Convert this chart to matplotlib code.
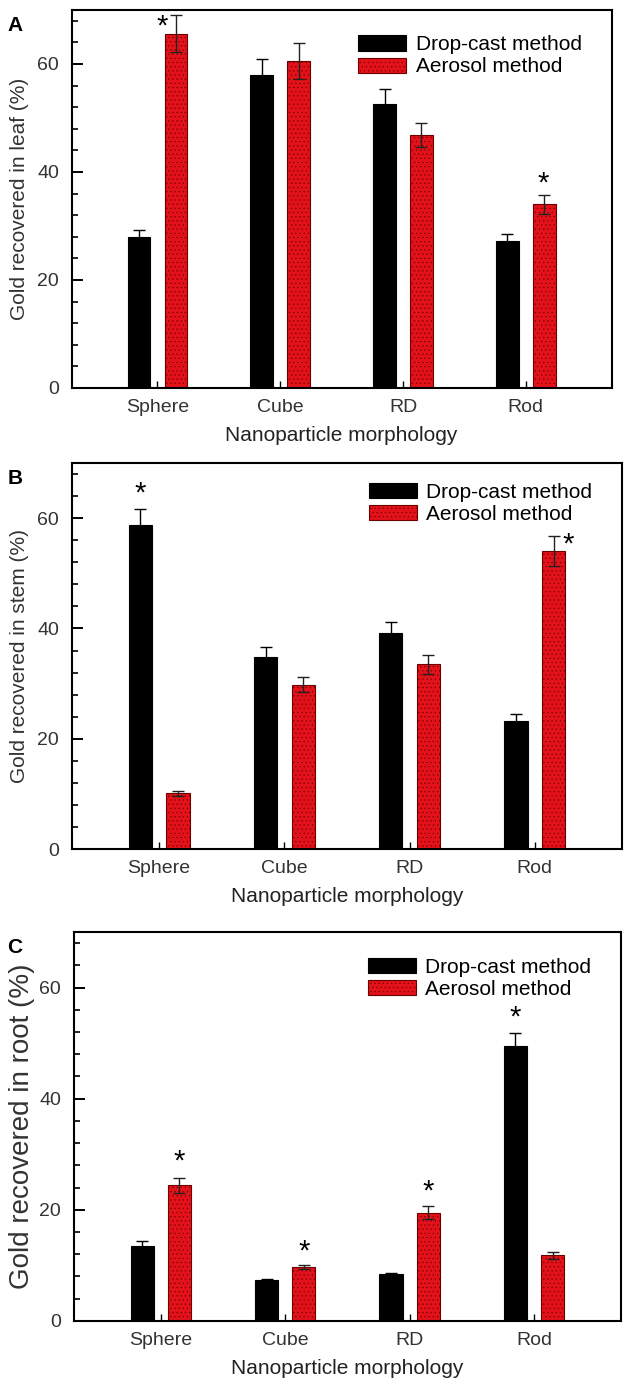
import numpy as np
import matplotlib
matplotlib.use("Agg")
import matplotlib.pyplot as plt
from matplotlib.ticker import MultipleLocator

plt.rcParams["font.family"] = ["Liberation Sans", "DejaVu Sans"]
plt.rcParams["hatch.linewidth"] = 0.35

categories = ["Sphere", "Cube", "RD", "Rod"]
series_names = ["Drop-cast method", "Aerosol method"]

# leaf
leaf_drop = [28.0, 57.9, 52.6, 27.3]
leaf_drop_err = [1.2, 3.0, 2.8, 1.2]
leaf_aero = [65.6, 60.6, 46.9, 34.0]
leaf_aero_err = [3.4, 3.3, 2.2, 1.8]

# stem
stem_drop = [58.7, 34.8, 39.1, 23.2]
stem_drop_err = [3.0, 1.8, 2.1, 1.3]
stem_aero = [10.1, 29.8, 33.5, 54.1]
stem_aero_err = [0.4, 1.4, 1.7, 2.7]

# root
root_drop = [13.4, 7.3, 8.4, 49.4]
root_drop_err = [0.9, 0.3, 0.3, 2.5]
root_aero = [24.4, 9.7, 19.5, 11.8]
root_aero_err = [1.3, 0.4, 1.1, 0.6]

# significance stars: (category index, x offset, y)
leaf_stars = [(0, 0.04, 67.0), (3, 0.14, 37.8)]
stem_stars = [(0, -0.15, 64.5), (3, 0.27, 55.3)]
root_stars = [(0, 0.15, 28.6), (1, 0.15, 12.4), (2, 0.15, 23.3), (3, -0.15, 54.6)]

panels = [
    ("A", "Gold recovered in leaf (%)", leaf_drop, leaf_drop_err, leaf_aero, leaf_aero_err, leaf_stars,
     [0.1135, 0.7227, 0.8575, 0.2702], (0.96, 0.955), 15, 6),
    ("B", "Gold recovered in stem (%)", stem_drop, stem_drop_err, stem_aero, stem_aero_err, stem_stars,
     [0.1135, 0.3931, 0.8745, 0.2759], (0.96, 0.97), 15, 6),
    ("C", "Gold recovered in root (%)", root_drop, root_drop_err, root_aero, root_aero_err, root_stars,
     [0.117, 0.0558, 0.869, 0.2780], (0.96, 0.955), 20, 3),
]

fig = plt.figure(figsize=(6.3, 13.99), dpi=100)
x = np.arange(len(categories))
w = 0.185
off = 0.15
red = "#e3121a"
tick_col = "#333333"

for letter, ylab, d, de, a, ae, stars, rect, leg_pos, ylab_fs, ylab_pad in panels:
    ax = fig.add_axes(rect)
    ax.bar(x - off, d, w, color="black", edgecolor="black", linewidth=0.8, label=series_names[0], zorder=2)
    ax.bar(x + off, a, w, color=red, edgecolor="#6a0000", linewidth=0.8, hatch="....",
           label=series_names[1], zorder=2)
    ax.errorbar(x - off, d, yerr=de, fmt="none", ecolor="black", elinewidth=1.0, capsize=4.5, capthick=1.0, zorder=3)
    ax.errorbar(x + off, a, yerr=ae, fmt="none", ecolor="#222222", elinewidth=1.0, capsize=4.5, capthick=1.0, zorder=3)
    for ci, dx, yy in stars:
        ax.text(x[ci] + dx, yy, "*", ha="center", va="center", fontsize=21, color="black")

    ax.set_xlim(-0.7, 3.7)
    ax.set_ylim(0, 70)
    ax.set_xticks(x)
    ax.set_xticklabels(categories, fontsize=14, color=tick_col)
    ax.set_yticks([0, 20, 40, 60])
    ax.yaxis.set_minor_locator(MultipleLocator(4))
    ax.tick_params(axis="y", which="major", direction="in", length=8, width=1.4, pad=9,
                   labelsize=14, labelcolor=tick_col)
    ax.tick_params(axis="y", which="minor", direction="in", length=4, width=1.2)
    ax.tick_params(axis="x", which="major", direction="in", length=5, width=1.0, pad=8)
    for s in ax.spines.values():
        s.set_linewidth(1.5)

    ax.set_xlabel("Nanoparticle morphology", fontsize=15, color="#222222", labelpad=7)
    ax.set_ylabel(ylab, fontsize=ylab_fs, color="#333333", labelpad=ylab_pad)

    ax.legend(loc="upper right", bbox_to_anchor=leg_pos, frameon=False, fontsize=15,
              handlelength=2.3, handleheight=0.75, labelspacing=0.15, handletextpad=0.45,
              borderaxespad=0)

    pos = ax.get_position()
    fig.text(0.012, pos.y1 - 0.004, letter, fontsize=15, fontweight="bold", va="top", ha="left")

fig.savefig("out.png", dpi=100)
